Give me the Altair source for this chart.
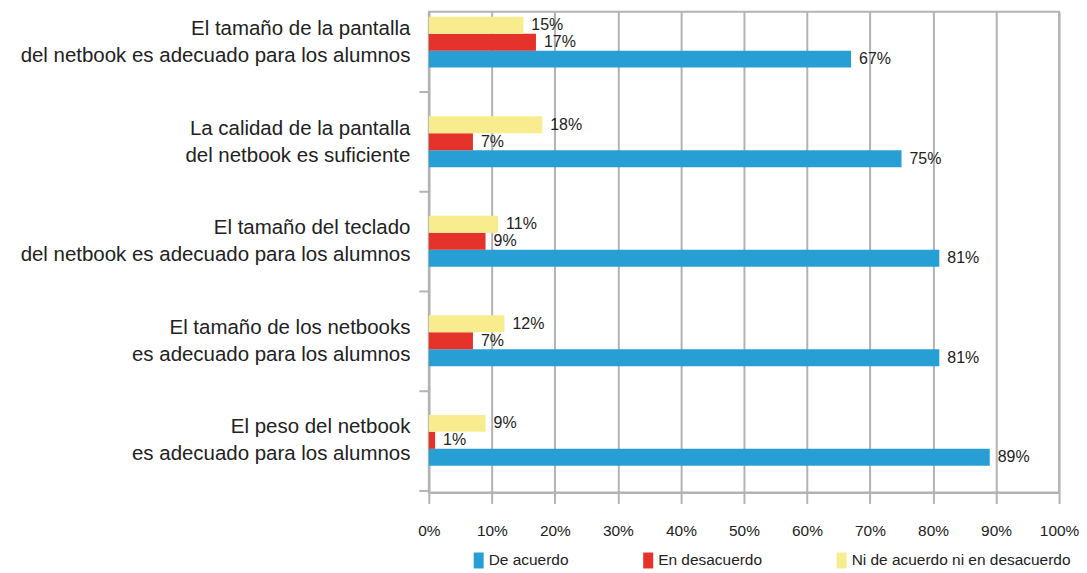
import altair as alt
import pandas as pd

categorias = [
    "El tamaño de la pantalla|del netbook es adecuado para los alumnos",
    "La calidad de la pantalla|del netbook es suficiente",
    "El tamaño del teclado|del netbook es adecuado para los alumnos",
    "El tamaño de los netbooks|es adecuado para los alumnos",
    "El peso del netbook|es adecuado para los alumnos",
]
series = ["De acuerdo", "En desacuerdo", "Ni de acuerdo ni en desacuerdo"]
de_acuerdo = [67, 75, 81, 81, 89]
en_desacuerdo = [17, 7, 9, 7, 1]
ni_acuerdo = [15, 18, 11, 12, 9]
colores = ["#279fd5", "#e5322a", "#f8ec8e"]
ticks_x = [0, 10, 20, 30, 40, 50, 60, 70, 80, 90, 100]

rows = []
for i, c in enumerate(categorias):
    for s, vals in zip(series, [de_acuerdo, en_desacuerdo, ni_acuerdo]):
        rows.append({"categoria": c, "serie": s, "valor": vals[i], "etiqueta": f"{vals[i]}%"})
df = pd.DataFrame(rows)

FONT = "Liberation Sans"
GRIS = "#b3b3b3"
TXT = "#222222"

y = alt.Y(
    "categoria:N",
    sort=categorias,
    title=None,
    scale=alt.Scale(paddingInner=0.489, paddingOuter=0.159, align=0.157),
    axis=alt.Axis(
        bandPosition=0.5,
        tickOffset=50,
        labelOffset=-63.5,
        labelExpr="split(datum.label, '|')",
        labelFont=FONT,
        labelFontSize=20.5,
        labelColor=TXT,
        labelLineHeight=27,
        labelPadding=9,
        labelLimit=600,
        tickSize=10,
        tickColor=GRIS,
        tickWidth=2,
        domainColor=GRIS,
        domainWidth=2,
    ),
)
yoff = alt.YOffset(
    "serie:N",
    sort=[series[2], series[1], series[0]],
    scale=alt.Scale(paddingInner=0, paddingOuter=0),
)
x = alt.X(
    "valor:Q",
    title=None,
    scale=alt.Scale(domain=[0, 100], nice=False),
    axis=alt.Axis(
        values=ticks_x,
        labelExpr="datum.value + '%'",
        labelFlush=False,
        grid=True,
        gridColor=GRIS,
        gridWidth=2,
        tickSize=11,
        tickColor=GRIS,
        tickWidth=2,
        domainColor=GRIS,
        domainWidth=2,
        labelFont=FONT,
        labelFontSize=15.5,
        labelColor=TXT,
        labelPadding=20,
    ),
)

bars = alt.Chart(df).mark_bar().encode(
    x=x,
    y=y,
    yOffset=yoff,
    color=alt.Color(
        "serie:N",
        scale=alt.Scale(domain=series, range=colores),
        legend=alt.Legend(
            title=None,
            orient="none",
            legendX=42,
            legendY=542,
            direction="horizontal",
            symbolType="M-0.625,-1H0.625V1H-0.625Z",
            symbolSize=256,
            symbolStrokeWidth=0,
            labelFont=FONT,
            labelFontSize=15.5,
            labelColor=TXT,
            labelOffset=2,
            labelLimit=400,
            columnPadding=71,
        ),
    ),
)

labels = alt.Chart(df).mark_text(
    align="left", baseline="middle", dx=8, font=FONT, fontSize=16, color=TXT
).encode(x=x, y=y, yOffset=yoff, text="etiqueta:N")

chart = (
    alt.layer(bars, labels)
    .properties(width=632, height=482, padding={"left": 12, "top": 3, "right": 0, "bottom": 0})
    .configure_view(stroke=GRIS, strokeWidth=2)
)

chart.save("out.html", embed_options={"renderer": "svg", "actions": False})
